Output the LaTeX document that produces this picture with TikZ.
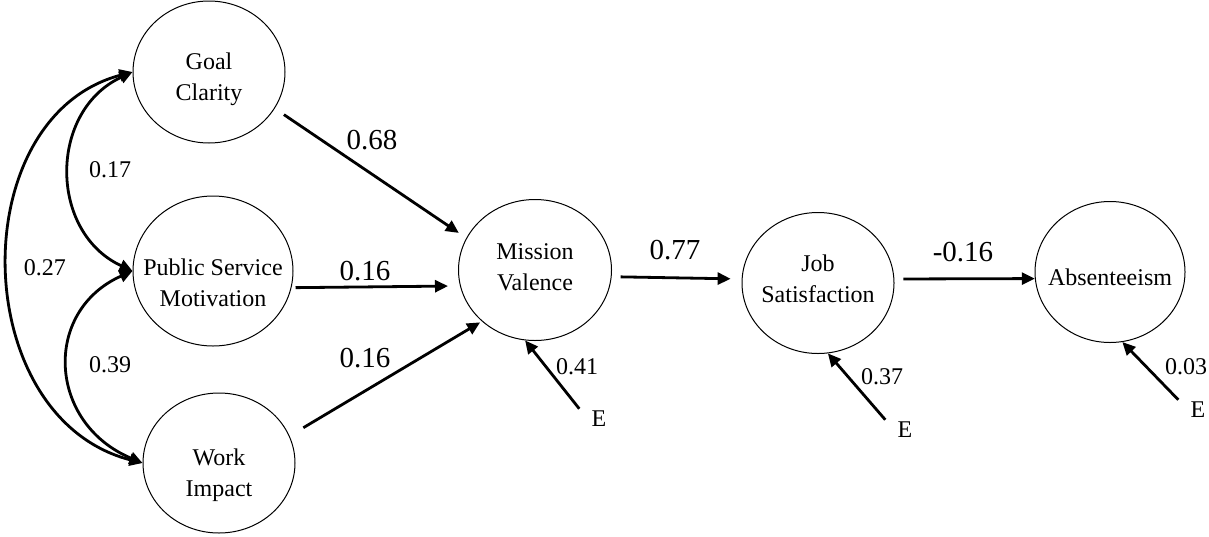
\documentclass[tikz,border=0pt]{standalone}
\usepackage{fontspec}
\setmainfont{Liberation Serif}
\usetikzlibrary{shapes.geometric, arrows.meta, positioning}

\begin{document}
\begin{tikzpicture}[
  x=0.5pt, y=-0.5pt,
  latent/.style={draw, ellipse, line width=0.5pt, inner sep=0pt},
  inside/.style={align=center, font=\fontsize{12}{15.3}\selectfont},
  coef/.style={font=\fontsize{14.5}{17}\selectfont},
  cov/.style={font=\fontsize{12}{14}\selectfont},
  err/.style={font=\fontsize{12}{14}\selectfont, inner xsep=6pt, inner ysep=1pt},
  arr/.style={-{Triangle[length=6.5pt, width=6pt]}, line width=1.4pt},
  dbl/.style={{Triangle[length=6.5pt, width=6pt]}-{Triangle[length=6.5pt, width=6pt]},
    line width=1.4pt},
]
  \useasboundingbox (0,0) rectangle (1209,536);

  % -- Latent variables --
  \node[latent, minimum width=76pt, minimum height=71pt,
    label={[inside, yshift=-3.5pt]center:Goal\\Clarity}] (goal) at (209,72) {};
  \node[latent, minimum width=80pt, minimum height=75pt,
    label={[inside, yshift=-6pt]center:Public Service\\Motivation}] (psm) at (213,271) {};
  \node[latent, minimum width=76pt, minimum height=70pt,
    label={[inside, yshift=-6pt]center:Work\\Impact}] (impact) at (219,463) {};
  \node[latent, minimum width=76.5pt, minimum height=70.5pt,
    label={[inside, yshift=1.5pt]center:Mission\\Valence}] (valence) at (535,270) {};
  \node[latent, minimum width=76pt, minimum height=70.5pt,
    label={[inside, yshift=2pt]center:Job\\Satisfaction}] (satis) at (818,283) {};
  \node[latent, minimum width=75pt, minimum height=70.5pt,
    label={[inside, yshift=-2.5pt]center:Absenteeism}] (absent) at (1110,272) {};

  % -- Error terms --
  \node[err] (eValence) at (599,419) {E};
  \node[err] (eSatis) at (905,430) {E};
  \node[err] (eAbsent) at (1198,410) {E};

  % -- Paths --
  \draw[arr, shorten <=5.5pt, shorten >=4.5pt] (goal.-29) -- (valence.155);
  \draw[arr, shorten <=2pt, shorten >=6pt] (psm.-12) -- (valence.192);
  \draw[arr, shorten <=8pt, shorten >=1pt] (impact.21) -- (valence.-136);
  \draw[arr, shorten <=4.5pt, shorten >=5.5pt] (valence.-5) -- (satis.177);
  \draw[arr, shorten <=4.5pt] (satis.3) -- (absent.185);

  \draw[arr] (eValence.north west) -- (valence.-98);
  \draw[arr] (eSatis.north west) -- (satis.-82);
  \draw[arr] (eAbsent.north west) -- (absent.-80);

  % -- Covariances --
  \draw[dbl] (goal.west) .. controls +(-84,39) and +(-84,-39) .. (psm.west);
  \draw[dbl] (psm.west) .. controls +(-90,40) and +(-95,-40) .. (impact.west);
  \draw[dbl] (goal.west) .. controls +(-170,45) and +(-175,-45) .. (impact.west);

  % -- Coefficients --
  \node[coef] (cGoal) at (372,140) {0.68};
  \node[coef] (cPsm) at (365,271) {0.16};
  \node[coef] (cImpact) at (365,358) {0.16};
  \node[coef] (cValence) at (675,250) {0.77};
  \node[coef] (cSatis) at (963,252) {-0.16};

  \node[cov] (rGoalPsm) at (110,170) {0.17};
  \node[cov] (rPsmImpact) at (110,365) {0.39};
  \node[cov] (rGoalImpact) at (45,268) {0.27};

  \node[cov] (vValence) at (577,367) {0.41};
  \node[cov] (vSatis) at (882,377) {0.37};
  \node[cov] (vAbsent) at (1186,367) {0.03};
\end{tikzpicture}
\end{document}
